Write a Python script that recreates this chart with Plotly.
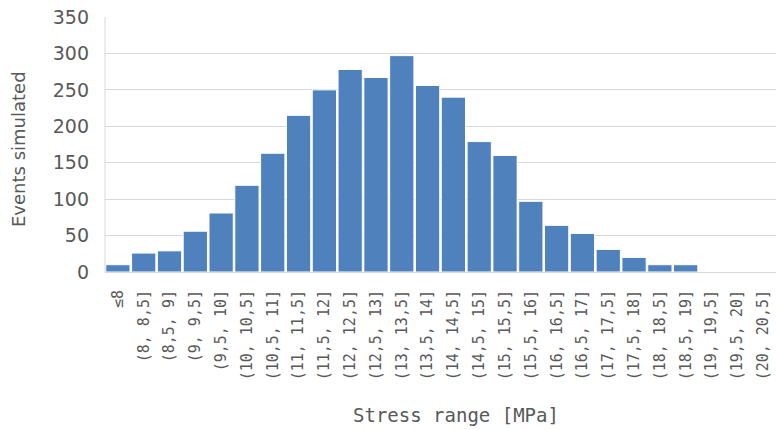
import plotly.graph_objects as go

categories = ["≤8", "(8, 8,5]", "(8,5, 9]", "(9, 9,5]", "(9,5, 10]", "(10, 10,5]",
              "(10,5, 11]", "(11, 11,5]", "(11,5, 12]", "(12, 12,5]", "(12,5, 13]",
              "(13, 13,5]", "(13,5, 14]", "(14, 14,5]", "(14,5, 15]", "(15, 15,5]",
              "(15,5, 16]", "(16, 16,5]", "(16,5, 17]", "(17, 17,5]", "(17,5, 18]",
              "(18, 18,5]", "(18,5, 19]", "(19, 19,5]", "(19,5, 20]", "(20, 20,5]"]
events = [10, 26, 29, 56, 81, 119, 163, 215, 250, 278, 267, 297, 256, 240, 179,
          160, 97, 64, 53, 31, 20, 10, 10, 0, 0, 0]
y_ticks = [0, 50, 100, 150, 200, 250, 300, 350]

sans = "DejaVu Sans, Verdana, sans-serif"
mono = "DejaVu Sans Mono, monospace"
grey = "#595959"

fig = go.Figure(go.Bar(
    x=categories, y=events,
    marker=dict(color="#4F81BD", line=dict(color="white", width=1)),
))

fig.update_layout(
    width=777, height=430,
    margin=dict(l=105, r=1, t=17, b=158),
    paper_bgcolor="white", plot_bgcolor="white",
    bargap=0.06,
    showlegend=False,
    font=dict(family=sans, color=grey),
)
fig.update_xaxes(
    type="category",
    tickangle=-90,
    tickfont=dict(family=mono, size=15, color=grey),
    showline=False, showgrid=False, ticks="",
    ticklabelstandoff=14,
)
fig.update_yaxes(
    range=[0, 350],
    tickvals=y_ticks,
    tickfont=dict(family=sans, size=19, color=grey),
    showgrid=True, gridcolor="#D9D9D9", gridwidth=1,
    zeroline=True, zerolinecolor="#D9D9D9", zerolinewidth=1,
    showline=False, ticks="",
    ticklabelstandoff=15,
)
fig.add_shape(type="line", xref="paper", yref="paper", x0=0, x1=0, y0=0, y1=1,
              line=dict(color="#D9D9D9", width=1))
fig.add_annotation(text="Stress range [MPa]", xref="paper", yref="paper",
                   x=0.523, y=-0.561, xanchor="center", yanchor="middle",
                   showarrow=False, font=dict(family=mono, size=19, color=grey))
fig.add_annotation(text="Events simulated", xref="paper", yref="paper",
                   x=-0.129, y=0.484, xanchor="center", yanchor="middle",
                   textangle=-90, showarrow=False,
                   font=dict(family=sans, size=18, color=grey))

fig.write_html("out.html")
